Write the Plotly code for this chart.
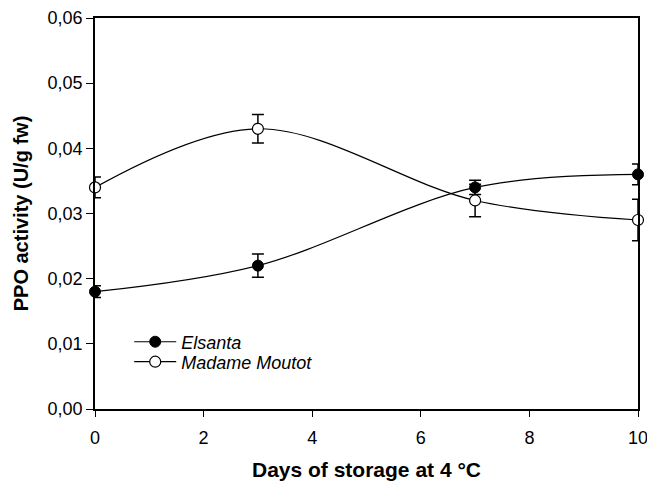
import plotly.graph_objects as go

# Storage days and PPO activity (U/g fw) per cultivar
days = [0, 3, 7, 10]
elsanta = [0.018, 0.022, 0.034, 0.036]
elsanta_err = [0.0009, 0.0018, 0.0011, 0.0016]
moutot = [0.034, 0.043, 0.032, 0.029]
moutot_err = [0.0016, 0.0022, 0.0025, 0.0032]

y_ticks = [0, 0.01, 0.02, 0.03, 0.04, 0.05, 0.06]
y_tick_labels = ["0,00", "0,01", "0,02", "0,03", "0,04", "0,05", "0,06"]
x_ticks = [0, 2, 4, 6, 8, 10]

font_family = "Liberation Sans, Arial, sans-serif"

fig = go.Figure()

fig.add_trace(go.Scatter(
    x=days, y=elsanta, name="Elsanta", legend="legend",
    mode="lines+markers",
    line=dict(color="black", width=1.2, shape="spline", smoothing=1),
    marker=dict(symbol="circle", size=11, color="black",
                line=dict(color="black", width=1)),
    error_y=dict(type="data", array=elsanta_err, visible=True,
                 color="black", thickness=1.5, width=6),
    cliponaxis=False,
))

fig.add_trace(go.Scatter(
    x=days, y=moutot, name="Madame Moutot", legend="legend2",
    mode="lines+markers",
    line=dict(color="black", width=1.2, shape="spline", smoothing=1),
    marker=dict(symbol="circle", size=11, color="white",
                line=dict(color="black", width=1.2)),
    error_y=dict(type="data", array=moutot_err, visible=True,
                 color="black", thickness=1.5, width=6),
    cliponaxis=False,
))

legend_style = dict(
    x=0.063, xanchor="left", yanchor="top",
    bgcolor="rgba(0,0,0,0)",
    font=dict(family=font_family, size=18, style="italic"),
    itemwidth=42,
)

fig.update_layout(
    width=647, height=481,
    margin=dict(l=95, r=9, t=18, b=72),
    paper_bgcolor="white", plot_bgcolor="white",
    font=dict(family=font_family, size=18, color="black"),
    showlegend=True,
    legend=dict(y=0.2186, **legend_style),
    legend2=dict(y=0.1675, **legend_style),
    xaxis=dict(
        range=[0, 10], tickvals=x_ticks, automargin=False,
        ticklabeloverflow="allow",
        ticks="outside", ticklen=6, tickwidth=1.2, tickcolor="black",
        showline=True, linecolor="black", linewidth=1.5, mirror=True,
        showgrid=False, zeroline=False,
        tickfont=dict(size=18), ticklabelstandoff=6,
        title=dict(text="<b>Days of storage at 4 °C</b>",
                   font=dict(size=21), standoff=18),
    ),
    yaxis=dict(
        range=[0, 0.06], tickvals=y_ticks, ticktext=y_tick_labels,
        automargin=False, ticklabeloverflow="allow",
        ticks="outside", ticklen=7, tickwidth=1.2, tickcolor="black",
        showline=True, linecolor="black", linewidth=1.5, mirror=True,
        showgrid=False, zeroline=False,
        tickfont=dict(size=18),
        title=dict(text="<b>PPO activity (U/g fw)</b>",
                   font=dict(size=20), standoff=14),
    ),
)

fig.write_html("out.html")
